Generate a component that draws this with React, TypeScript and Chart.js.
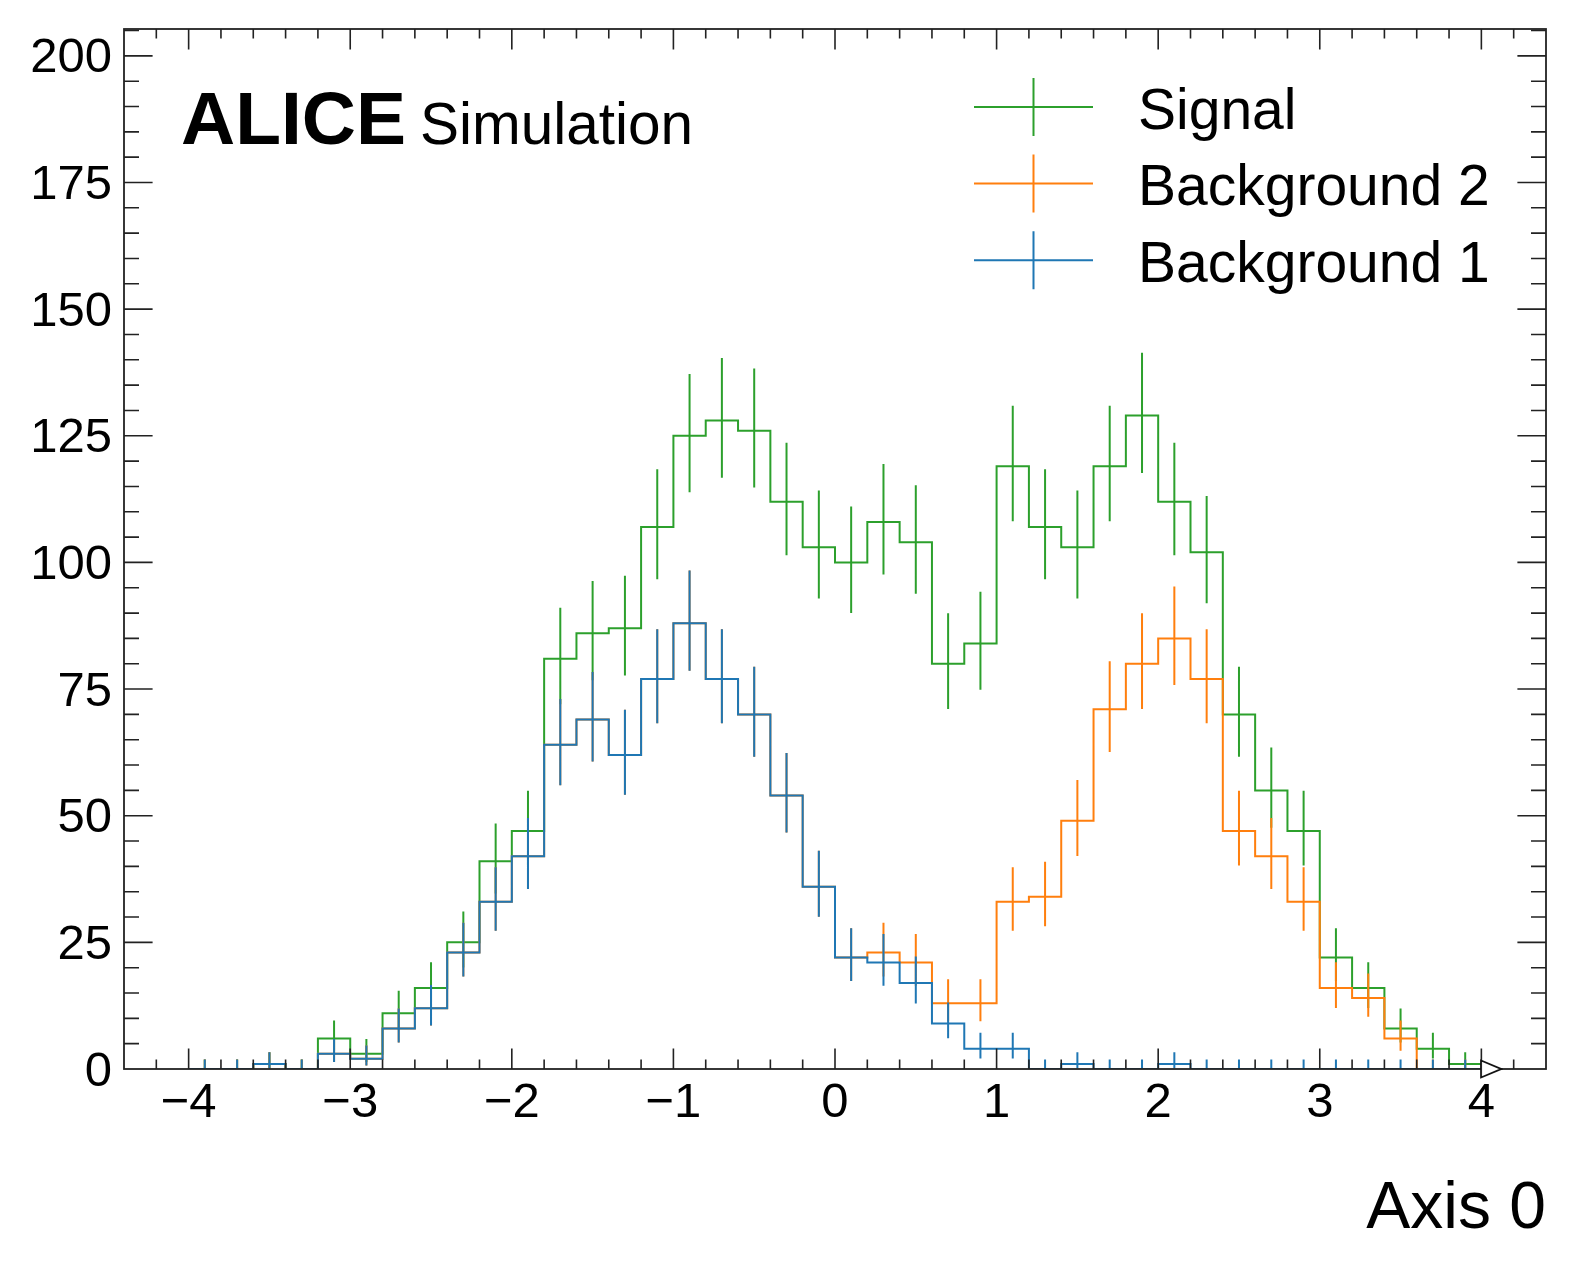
import React, { useEffect, useRef } from 'react';
import { Chart, registerables, type ChartConfiguration, type Plugin } from 'chart.js';

Chart.register(...registerables);

const FONT = "'Liberation Sans', Arial, Helvetica, sans-serif";

// histogram binning (40 bins of 0.2)
const BIN_EDGES = [
  -4.0, -3.8, -3.6, -3.4, -3.2, -3.0, -2.8, -2.6, -2.4, -2.2,
  -2.0, -1.8, -1.6, -1.4, -1.2, -1.0, -0.8, -0.6, -0.4, -0.2,
  0.0, 0.2, 0.4, 0.6, 0.8, 1.0, 1.2, 1.4, 1.6, 1.8,
  2.0, 2.2, 2.4, 2.6, 2.8, 3.0, 3.2, 3.4, 3.6, 3.8, 4.0,
];

// counts per bin
const BACKGROUND_1 = [
  0, 0, 1, 0, 3, 2, 8, 12, 23, 33,
  42, 64, 69, 62, 77, 88, 77, 70, 54, 36,
  22, 21, 17, 9, 4, 4, 0, 1, 0, 0,
  1, 0, 0, 0, 0, 0, 0, 0, 0, 0,
];
const BACKGROUND_2 = [
  0, 0, 0, 0, 0, 0, 0, 0, 0, 0,
  0, 0, 0, 0, 0, 0, 0, 0, 0, 0,
  0, 2, 4, 4, 9, 29, 34, 48, 71, 80,
  84, 77, 47, 42, 33, 16, 14, 6, 0, 0,
];
const SIGNAL = [
  0, 0, 0, 0, 3, 1, 3, 4, 2, 8,
  5, 17, 17, 25, 30, 37, 51, 56, 58, 67,
  78, 85, 83, 67, 71, 86, 73, 54, 48, 49,
  27, 25, 23, 13, 14, 6, 2, 2, 4, 1,
];

const SERIES_LABELS = ['Signal', 'Background 2', 'Background 1'];
const SERIES_COLORS = ['#2ca02c', '#ff7f0e', '#1f77b4'];

const X_TICKS = [-4, -3, -2, -1, 0, 1, 2, 3, 4];
const Y_TICKS = [0, 25, 50, 75, 100, 125, 150, 175, 200];
const X_MIN = -4.4;
const X_MAX = 4.4;
const Y_MAX = 205.3;
const OVERFLOW_X = 4.06;

const LINE_W = 2;
const AXIS_COLOR = '#222';

// stacked totals (bkg1, bkg1+bkg2, all)
const stackB1 = BACKGROUND_1;
const stackB2 = BACKGROUND_1.map((v, i) => v + BACKGROUND_2[i]);
const stackAll = stackB2.map((v, i) => v + SIGNAL[i]);

// poisson interval on counts (Gehrels approx. of the Garwood interval)
function poisson(n: number): [number, number] {
  const lo = n > 0 ? n * Math.pow(1 - 1 / (9 * n) - 1 / (3 * Math.sqrt(n)), 3) : 0;
  const hi = n + Math.sqrt(n + 0.75) + 1;
  return [lo, hi];
}

const steps = (vals: number[]) =>
  BIN_EDGES.map((x, i) => ({ x, y: vals[Math.min(i, vals.length - 1)] }));

const errorBars = (vals: number[]) =>
  vals.flatMap((n, i) => {
    const c = (BIN_EDGES[i] + BIN_EDGES[i + 1]) / 2;
    const [lo, hi] = poisson(n);
    return [{ x: c, y: lo }, { x: c, y: hi }, { x: c, y: null }];
  });

const fmt = (v: number) => (v < 0 ? '\u2212' + Math.abs(v) : String(v));

function triangleMarker() {
  const c = document.createElement('canvas');
  c.width = 24;
  c.height = 22;
  const g = c.getContext('2d')!;
  g.fillStyle = '#fff';
  g.strokeStyle = '#111';
  g.lineWidth = 1.8;
  g.beginPath();
  g.moveTo(2, 2.5);
  g.lineTo(22, 11);
  g.lineTo(2, 19.5);
  g.closePath();
  g.fill();
  g.stroke();
  return c;
}

function drawFrame(chart: Chart) {
  const { ctx, chartArea: a } = chart;
  const x = chart.scales.x;
  const y = chart.scales.y;
  ctx.save();
  ctx.strokeStyle = AXIS_COLOR;
  ctx.lineWidth = 1.6;
  ctx.beginPath();
  for (let k = -21; k <= 21; k++) {
    const v = k / 5;
    const major = X_TICKS.includes(v);
    const len = major ? 20.5 : 9.5;
    const px = x.getPixelForValue(v);
    ctx.moveTo(px, a.bottom);
    ctx.lineTo(px, a.bottom - len);
    ctx.moveTo(px, a.top);
    ctx.lineTo(px, a.top + len);
  }
  for (let v = 5; v < Y_MAX; v += 5) {
    const major = Y_TICKS.includes(v);
    const len = major ? 28.6 : 15;
    const py = y.getPixelForValue(v);
    ctx.moveTo(a.left, py);
    ctx.lineTo(a.left + len, py);
    ctx.moveTo(a.right, py);
    ctx.lineTo(a.right - len, py);
  }
  ctx.stroke();
  ctx.lineWidth = 1.8;
  ctx.strokeRect(a.left, a.top, a.right - a.left, a.bottom - a.top);
  ctx.restore();
}

export default function App() {
  const canvasRef = useRef<HTMLCanvasElement>(null);

  useEffect(() => {
    if (!canvasRef.current) return;
    const stacks = [stackAll, stackB2, stackB1];

    const datasets: any[] = [];
    stacks.forEach((vals, k) => {
      const order = 3 - k;
      datasets.push({
        label: SERIES_LABELS[k],
        data: steps(vals),
        borderColor: SERIES_COLORS[k],
        borderWidth: LINE_W,
        stepped: 'before',
        pointRadius: 0,
        fill: false,
        order,
      });
      datasets.push({
        label: SERIES_LABELS[k] + ' errors',
        data: errorBars(vals),
        borderColor: SERIES_COLORS[k],
        borderWidth: LINE_W,
        spanGaps: false,
        pointRadius: 0,
        fill: false,
        order,
      });
    });
    const overflowIndex = datasets.length;
    datasets.push({
      label: 'overflow',
      data: [{ x: OVERFLOW_X, y: 0 }],
      showLine: false,
      pointStyle: triangleMarker(),
      pointRadius: 10,
      clip: false,
      order: 0,
    });

    const framePlugin: Plugin = {
      id: 'frame',
      beforeDatasetDraw(chart, args) {
        if (args.index === overflowIndex) drawFrame(chart as Chart);
      },
      afterDraw(chart) {
        const { ctx, chartArea: a } = chart;
        ctx.save();
        ctx.fillStyle = '#000';
        ctx.textBaseline = 'alphabetic';
        ctx.textAlign = 'left';
        // experiment label
        ctx.font = `bold 75px ${FONT}`;
        const ax = a.left + 57;
        ctx.fillText('ALICE', ax, 144);
        const w = ctx.measureText('ALICE').width;
        ctx.font = `58.5px ${FONT}`;
        ctx.fillText('Simulation', ax + w + 14, 144);

        // legend
        const x0 = a.right - 572;
        const x1 = a.right - 453;
        const xc = (x0 + x1) / 2;
        SERIES_LABELS.forEach((label, k) => {
          const yc = 107 + k * 76.6;
          ctx.strokeStyle = SERIES_COLORS[k];
          ctx.lineWidth = LINE_W;
          ctx.beginPath();
          ctx.moveTo(x0, yc);
          ctx.lineTo(x1, yc);
          ctx.moveTo(xc, yc - 29);
          ctx.lineTo(xc, yc + 29);
          ctx.stroke();
          ctx.font = `57px ${FONT}`;
          ctx.fillText(label, a.right - 408, yc + 21.5);
        });
        ctx.restore();
      },
    };

    const config: ChartConfiguration = {
      type: 'line',
      data: { datasets },
      options: {
        animation: false,
        responsive: true,
        maintainAspectRatio: false,
        layout: { padding: { top: 29, right: 30, left: 0, bottom: 0 } },
        plugins: { legend: { display: false }, tooltip: { enabled: false } },
        scales: {
          x: {
            type: 'linear',
            bounds: 'data',
            min: X_MIN,
            max: X_MAX,
            grid: { display: false, drawTicks: false },
            border: { display: false },
            afterBuildTicks: (scale: any) => {
              scale.ticks = X_TICKS.map(v => ({ value: v }));
            },
            afterFit: (scale: any) => {
              scale.height = 206;
              scale.paddingLeft = 0;
              scale.paddingRight = 0;
            },
            ticks: {
              autoSkip: false,
              maxRotation: 0,
              padding: 5,
              color: '#000',
              font: { family: FONT, size: 49 },
              callback: v => fmt(Number(v)),
            },
            title: {
              display: true,
              text: 'Axis 0',
              align: 'end',
              color: '#000',
              font: { family: FONT, size: 66 },
              padding: { top: 0, bottom: 26 },
            },
          },
          y: {
            type: 'linear',
            bounds: 'data',
            min: 0,
            max: Y_MAX,
            grid: { display: false, drawTicks: false },
            border: { display: false },
            afterBuildTicks: (scale: any) => {
              scale.ticks = Y_TICKS.map(v => ({ value: v }));
            },
            afterFit: (scale: any) => {
              scale.width = 124;
              scale.paddingTop = 0;
              scale.paddingBottom = 0;
            },
            ticks: {
              autoSkip: false,
              padding: 12,
              labelOffset: 3,
              color: '#000',
              font: { family: FONT, size: 49 },
              callback: v => fmt(Number(v)),
            },
          },
        },
      },
      plugins: [framePlugin],
    };

    const chart = new Chart(canvasRef.current, config);
    return () => chart.destroy();
  }, []);

  return (
    <div style={{ position: 'absolute', left: 0, top: 0, width: 1576, height: 1275, background: '#fff' }}>
      <canvas ref={canvasRef} />
    </div>
  );
}
